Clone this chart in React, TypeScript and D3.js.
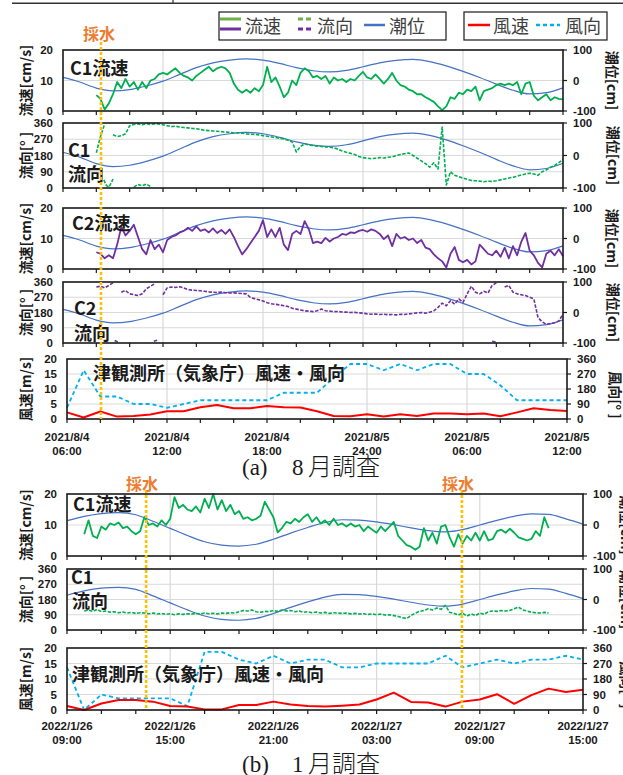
import React from "react";
import * as d3 from "d3";

// sampling step (hours) of the current-meter series
const STEP_H = 0.25;

// ---------- (a) 8月調査 : hours since 2021/8/4 06:00 ----------
const A_TIDE = [10, -5, -25, -34, -30, -18, -2, 20, 42, 58, 67, 71, 67, 56, 42, 32, 28, 33, 45, 58, 66, 69, 62, 48, 30, 10, -12, -32, -44, -40, -24];

const A_C1_SPEED_START = 2;
const A_C1_SPEED = [
  5.2, 4.0, 0.5, 2.5, 5.5, 9.5, 7.5, 10.5, 8, 9.5, 7, 9.5, 7.5, 10, 10.5, 12,
  12.5, 12, 13, 14, 12.5, 11.5, 11, 10, 11.5, 12.5, 13.5, 14.5, 13, 14, 14.5, 14,
  12.5, 9, 7, 6, 7, 6, 7.5, 6.5, 8.5, 14.5, 9.5, 11, 8, 4.5, 6, 10,
  8.5, 12.5, 14, 13, 11, 11.5, 10.5, 11.5, 9, 11, 10, 10.5, 9.5, 10.5, 10, 11.5,
  12.8, 11, 10.5, 12, 10.5, 9, 10.5, 12.5, 10, 8.5, 8, 7, 6.5, 5.5, 5.5, 4.5,
  3.8, 3, 1.5, 0.3, 1.5, 4.5, 4, 6, 5.5, 7, 6.5, 8, 3.5, 6.5, 7, 7.5,
  8.5, 9, 8.5, 9, 8.5, 9.5, 5.5, 9, 9.5, 5, 3.5, 4.5, 5.5, 3.5, 4.5, 4, 3.8,
];

const A_C1_DIR_START = 2;
const A_C1_DIR: (number | null)[] = [
  195, 285, 355, null, 295, 285, 290, 300, 345, 352, 355, 350, 356, 352, 355, 355,
  350, 345, 340, 342, 338, 335, 333, 330, 328, 324, 320, 318, 316, 314, 312, 310,
  308, 306, 305, 303, 300, 298, 297, 294, 290, 287, 283, 280, 275, 272, 265, 255,
  200, 230, 245, 238, 235, 232, 230, 228, 226, 222, 215, 205, 198, 192, 185, 175,
  168, 165, 162, 165, 168, 166, 170, 172, 180, 186, 190, 194, 180, 165, 150, 135,
  115, 140, 105, 338, 17, 90, 70, 62, 55, 48, 42, 40, 38, 35, 38, 36,
  40, 45, 50, 55, 60, 65, 72, 78, 82, 78, 70, 90, 100, 115, 125, 140, 158,
];
// fragments that wrapped past 360° to just above 0°
const A_C1_DIR_WRAP_T = [2.45, 2.6, 2.75, 2.9, 3.0, 3.1, 4.25, 4.5, 4.75, 5.0, 5.25];
const A_C1_DIR_WRAP: (number | null)[] = [45, 15, 5, 30, 50, null, 5, 20, 12, 22, 8];

const A_C2_SPEED_START = 2;
const A_C2_SPEED = [
  5.5, 5, 3.5, 4.5, 3.5, 8, 13.8, 11, 12.5, 14.5, 10.5, 6.5, 4.8, 9.5, 6.5, 8,
  5.5, 9.5, 10.5, 11, 12, 12.5, 13.5, 12.5, 14, 12.5, 13, 12, 13.3, 11.8, 12.8, 11.5,
  13, 10.5, 7.5, 4.8, 6.5, 8.5, 10.5, 12.5, 16, 10.5, 13, 10.5, 13.5, 8, 6.2, 11.5,
  12.5, 11.5, 15.7, 13, 8.5, 9, 8.5, 10.2, 9, 10, 10.5, 11.5, 11.2, 12, 11.8, 12.5,
  12.8, 12.2, 13, 12.5, 11.5, 9.8, 11, 7.5, 11.5, 10, 10.5, 9.5, 10, 8.5, 9.5, 7,
  6.5, 4.8, 3.5, 2.5, 0.5, 5, 7.2, 3, 2.2, 3, 1.5, 2.5, 8, 6.5, 5, 4.5,
  6, 4, 7, 3.5, 7.5, 4.5, 9, 11.8, 6, 4.5, 2, 0.5, 5, 6, 4.5, 6.5, 4.2,
];

const A_C2_DIR_START = 2;
const A_C2_DIR: (number | null)[] = [
  330, 335, 325, 340, 355, null, 300, 310, 290, 285, 280, 290, 320, 335, 350, null,
  285, 325, 330, 328, 332, 325, 315, 312, 310, 308, 305, 302, 300, 298, 300, 297,
  295, 296, 294, 292, 290, 268, 262, 255, 248, 238, 232, 228, 225, 220, 215, 205,
  200, 195, 190, 188, 185, 190, 200, 190, 188, 185, 186, 183, 182, 180, 181, 178,
  176, 172, 170, 171, 168, 170, 167, 168, 166, 170, 168, 172, 175, 178, 180, 176,
  182, 190, 210, 235, 220, 250, 230, 260, 240, 290, 335, 300, 290, 305, 295, 340,
  355, null, 330, 340, 300, 290, 285, 280, 270, 260, 150, 125, 110, 115, 120, 130, 170,
];
const A_C2_DIR_WRAP_T = [3.1, 3.3, 3.4, 5.45, 5.7, 5.8, 25.75, 26.0];
const A_C2_DIR_WRAP: (number | null)[] = [15, 5, null, 10, 18, null, 10, 5];

// hourly JMA wind (津)
const A_WIND_SPEED = [2.2, 0.5, 2.5, 0.8, 1.0, 1.5, 2.6, 2.6, 3.9, 4.7, 3.6, 3.6, 4.3, 3.9, 3.8, 2.6, 1.0, 0.9, 1.6, 0.8, 1.6, 1.0, 1.8, 1.8, 1.6, 1.8, 0.9, 2.2, 3.6, 3.0, 2.7];
const A_WIND_DIR = [67.5, 292.5, 135, 135, 90, 90, 67.5, 90, 112.5, 112.5, 112.5, 112.5, 112.5, 157.5, 157.5, 157.5, 247.5, 330, 330, 292.5, 330, 292.5, 330, 330, 270, 270, 202.5, 112.5, 112.5, 112.5, 112.5];
const A_SAMPLING_HOURS = [2.28];

// ---------- (b) 1月調査 : hours since 2022/1/26 09:00 ----------
const B_TIDE = [14, 28, 37, 40, 33, 12, -11, -34, -54, -65, -68, -62, -46, -26, -8, 8, 17, 16, 10, 1, -9, -18, -22, -15, 0, 15, 28, 36, 34, 20, 3];

const B_C1_SPEED_START = 1;
const B_C1_SPEED = [
  7, 11.5, 6.5, 5.8, 9.5, 8.5, 10.5, 10, 10.8, 9, 9.5, 8, 7, 8, 12.6, 10,
  10.5, 9.5, 11.5, 10, 12, 19, 15.5, 16.5, 15, 14.5, 16, 14, 18.5, 15.5, 20, 15,
  18, 14.5, 16.5, 13.5, 14.5, 12, 12.5, 11.5, 12, 13, 17.5, 15, 12.5, 7.6, 9, 11,
  10.5, 12, 11, 12.5, 13.5, 11, 12.5, 10.5, 11.5, 10, 12, 10, 10.5, 9.5, 10.5, 9.5,
  10, 8, 9.5, 8.5, 7.5, 9.5, 8, 9.5, 11, 6.5, 5, 3.5, 3, 2, 3, 9,
  5, 7.5, 4, 9.5, 10, 6, 3, 7, 4, 6.5, 5, 7.5, 5, 8, 5, 5.5,
  8, 8.5, 7.5, 8.8, 7.5, 6, 5.5, 5, 5.5, 8, 6.5, 12.5, 9,
];

const B_C1_DIR_START = 1;
const B_C1_DIR = [
  112, 118, 110, 122, 108, 112, 105, 108, 102, 106, 100, 104, 98, 102, 100, 96,
  100, 94, 98, 92, 96, 90, 95, 92, 96, 94, 98, 95, 100, 96, 98, 95,
  100, 98, 102, 100, 108, 115, 112, 118, 108, 105, 110, 108, 115, 110, 118, 112,
  115, 108, 112, 104, 108, 102, 106, 100, 104, 98, 102, 100, 98, 100, 95, 98,
  94, 96, 92, 95, 90, 94, 88, 90, 85, 80, 72, 68, 85, 100, 110, 115,
  125, 118, 130, 122, 145, 105, 98, 88, 100, 82, 95, 85, 100, 92, 108, 112,
  110, 115, 112, 116, 125, 135, 118, 112, 105, 102, 100, 104, 100,
];

const B_WIND_SPEED = [1.3, 0, 2.1, 3.2, 3.2, 2.7, 1.3, 1.1, 0.2, 0.2, 1.6, 1.6, 2.7, 1.8, 1.3, 1.1, 1.4, 1.8, 3.4, 5.6, 2.6, 2.4, 1.1, 2.7, 3.4, 5.1, 2.0, 4.8, 6.9, 5.8, 6.5];
const B_WIND_DIR = [247.5, 0, 90, 67.5, 67.5, 67.5, 67.5, 22.5, 337.5, 337.5, 292.5, 270, 315, 270, 292.5, 292.5, 247.5, 247.5, 270, 270, 270, 270, 315, 247.5, 270, 292.5, 270, 292.5, 292.5, 315, 292.5];
const B_SAMPLING_HOURS = [4.6, 22.96];

// ---------- axes ----------
const SPEED_TICKS = [0, 10, 20];
const DIR_TICKS = [0, 90, 180, 270, 360];
const TIDE_TICKS = [-100, 0, 100];
const WIND_TICKS = [0, 5, 10, 15, 20];
const WDIR_TICKS = [0, 90, 180, 270, 360];
const HOUR_TICKS = d3.range(0, 31, 2);
const GRID_HOURS = [6, 12, 18, 24];
const A_DATE_LABELS = [["2021/8/4", "06:00"], ["2021/8/4", "12:00"], ["2021/8/4", "18:00"], ["2021/8/5", "24:00"], ["2021/8/5", "06:00"], ["2021/8/5", "12:00"]];
const B_DATE_LABELS = [["2022/1/26", "09:00"], ["2022/1/26", "15:00"], ["2022/1/26", "21:00"], ["2022/1/27", "03:00"], ["2022/1/27", "09:00"], ["2022/1/27", "15:00"]];
const LABEL_HOURS = [0, 6, 12, 18, 24, 30];

const GREEN = "#00B050";
const PURPLE = "#7030A0";
const BLUE = "#4472C4";
const RED = "#FF0000";
const CYAN = "#00B0F0";
const ORANGE_TXT = "#ED7D31";
const ORANGE_LINE = "#FFC000";
const INK = "#1a1a1a";
const NUM_FONT = "'Liberation Sans', Arial, sans-serif";
const JP_FONT = "'Noto Sans CJK JP', 'Noto Sans', sans-serif";
const SERIF = "'Liberation Serif', 'Times New Roman', serif";

const times = (start: number, n: number) => d3.range(n).map((i) => start + i * STEP_H);
const hours = (n: number) => d3.range(n);

type Series = {
  t: number[];
  v: (number | null)[];
  color: string;
  width: number;
  dash?: string;
  right?: boolean;
  curve?: boolean;
};

type PanelOpts = {
  id: string;
  x: d3.ScaleLinear<number, number>;
  y0: number;
  y1: number;
  leftDomain: [number, number];
  leftTicks: number[];
  rightDomain: [number, number];
  rightTicks: number[];
  leftTitle: string;
  rightTitle: string;
  rightTitleX: number;
  rightTitleDy?: number;
  series: Series[];
};

function Panel(o: PanelOpts) {
  const [xa, xb] = o.x.range();
  const yl = d3.scaleLinear().domain(o.leftDomain).range([o.y1, o.y0]);
  const yr = d3.scaleLinear().domain(o.rightDomain).range([o.y1, o.y0]);
  const mid = (o.y0 + o.y1) / 2;
  return (
    <g>
      {GRID_HOURS.map((h) => (
        <line key={"vg" + h} x1={o.x(h)} x2={o.x(h)} y1={o.y0} y2={o.y1} stroke="#d9d9d9" strokeWidth={1.2} />
      ))}
      {o.leftTicks.slice(1, -1).map((v) => (
        <line key={"hg" + v} x1={xa} x2={xb} y1={yl(v)} y2={yl(v)} stroke="#d9d9d9" strokeWidth={1.2} />
      ))}
      {o.series.map((s, i) => {
        const ys = s.right ? yr : yl;
        const gen = d3
          .line<number>()
          .defined((j) => s.v[j] != null)
          .x((j) => o.x(s.t[j]))
          .y((j) => ys(s.v[j] as number));
        if (s.curve) gen.curve(d3.curveMonotoneX);
        return (
          <path
            key={"s" + i}
            d={gen(d3.range(s.t.length)) || ""}
            fill="none"
            stroke={s.color}
            strokeWidth={s.width}
            strokeDasharray={s.dash}
            strokeLinejoin="round"
          />
        );
      })}
      <rect x={xa} y={o.y0} width={xb - xa} height={o.y1 - o.y0} fill="none" stroke={INK} strokeWidth={1.6} />
      {HOUR_TICKS.map((h) => (
        <line key={"xt" + h} x1={o.x(h)} x2={o.x(h)} y1={o.y1} y2={o.y1 + 4} stroke={INK} strokeWidth={1.2} />
      ))}
      {o.rightTicks.map((v) => (
        <line key={"rt" + v} x1={xb} x2={xb + 4} y1={yr(v)} y2={yr(v)} stroke={INK} strokeWidth={1.2} />
      ))}
      {o.leftTicks.map((v) => (
        <text key={"lt" + v} x={xa - 10} y={yl(v)} textAnchor="end" dominantBaseline="central"
          fontFamily={NUM_FONT} fontWeight="bold" fontSize={11.5} fill={INK}>{v}</text>
      ))}
      {o.rightTicks.map((v) => (
        <text key={"rl" + v} x={xb + 10} y={yr(v)} textAnchor="start" dominantBaseline="central"
          fontFamily={NUM_FONT} fontWeight="bold" fontSize={11.5} fill={INK}>{v}</text>
      ))}
      <text transform={`translate(25,${mid}) rotate(-90)`} textAnchor="middle" dominantBaseline="central"
        fontFamily={JP_FONT} fontWeight="bold" fontSize={14} fill={INK}>{o.leftTitle}</text>
      <text transform={`translate(${o.rightTitleX},${mid + (o.rightTitleDy || 0)}) rotate(90)`} textAnchor="middle"
        dominantBaseline="central" fontFamily={JP_FONT} fontWeight="bold" fontSize={14} fill={INK}>{o.rightTitle}</text>
    </g>
  );
}

function PanelLabel({ x, y, text, size = 18 }: { x: number; y: number; text: string; size?: number }) {
  return (
    <text x={x} y={y} dominantBaseline="central" fontFamily={JP_FONT} fontWeight="bold" fontSize={size} fill={INK}>
      {text}
    </text>
  );
}

function DateLabels({ x, labels, y }: { x: d3.ScaleLinear<number, number>; labels: string[][]; y: number }) {
  return (
    <g>
      {labels.map((l, i) => (
        <g key={i}>
          <text x={x(LABEL_HOURS[i])} y={y} textAnchor="middle" dominantBaseline="central" fontFamily={NUM_FONT}
            fontWeight="bold" fontSize={11.5} fill={INK}>{l[0]}</text>
          <text x={x(LABEL_HOURS[i])} y={y + 13.5} textAnchor="middle" dominantBaseline="central" fontFamily={NUM_FONT}
            fontWeight="bold" fontSize={11.5} fill={INK}>{l[1]}</text>
        </g>
      ))}
    </g>
  );
}

function Caption({ y, tag, month }: { y: number; tag: string; month: string }) {
  return (
    <g fill={INK}>
      <text x={242} y={y} fontFamily={SERIF} fontSize={23}>{tag}</text>
      <text x={292} y={y} fontFamily={SERIF} fontSize={23}>{month}</text>
      <text x={308} y={y} fontFamily={JP_FONT} fontWeight={300} fontSize={24}>月調査</text>
    </g>
  );
}

export default function App() {
  const W = 623;
  const H = 775;
  const xA = d3.scaleLinear().domain([0, 30]).range([63, 563]);
  const xAw = d3.scaleLinear().domain([0, 30]).range([67, 567]);
  const xB = d3.scaleLinear().domain([0, 30]).range([67, 583]);

  const aTide: Series = { t: hours(A_TIDE.length), v: A_TIDE, color: BLUE, width: 1.2, right: true, curve: true };
  const bTide: Series = { t: hours(B_TIDE.length), v: B_TIDE, color: BLUE, width: 1.2, right: true, curve: true };
  const dirDash = "3.5 1.5";

  return (
    <svg width={W} height={H} viewBox={`0 0 ${W} ${H}`} style={{ position: "absolute", left: 0, top: 0, background: "#fff" }}>
      <rect x={0} y={0} width={W} height={H} fill="#fff" />
      {/* remnant of the previous figure */}
      <line x1={12} x2={W} y1={3.3} y2={3.3} stroke="#333" strokeWidth={1.4} />
      <line x1={173} x2={173} y1={0} y2={3.3} stroke="#333" strokeWidth={1.2} />

      {/* legends */}
      <g fontFamily={JP_FONT} fontSize={18} fill="#404040">
        <rect x={219} y={12} width={227} height={28} fill="#fff" stroke={INK} strokeWidth={1.2} />
        <line x1={220} x2={241} y1={19} y2={19} stroke="#70AD47" strokeWidth={3} />
        <line x1={220} x2={241} y1={29} y2={29} stroke={PURPLE} strokeWidth={3} />
        <text x={245} y={25} dominantBaseline="central">流速</text>
        <line x1={298} x2={311} y1={19} y2={19} stroke="#70AD47" strokeWidth={3} strokeDasharray="5 3" />
        <line x1={298} x2={311} y1={29} y2={29} stroke={PURPLE} strokeWidth={3} strokeDasharray="5 3" />
        <text x={317} y={25} dominantBaseline="central">流向</text>
        <line x1={364} x2={385} y1={25} y2={25} stroke={BLUE} strokeWidth={2.5} />
        <text x={389} y={25} dominantBaseline="central">潮位</text>

        <rect x={464} y={12} width={143} height={28} fill="#fff" stroke={INK} strokeWidth={1.2} />
        <line x1={468} x2={490} y1={25} y2={25} stroke={RED} strokeWidth={2.5} />
        <text x={493} y={25} dominantBaseline="central">風速</text>
        <line x1={536} x2={560} y1={25} y2={25} stroke={CYAN} strokeWidth={2.5} strokeDasharray="4 3" />
        <text x={565} y={25} dominantBaseline="central">風向</text>
      </g>

      {/* ===== (a) ===== */}
      <Panel id="a1" x={xA} y0={50} y1={111} leftDomain={[0, 20]} leftTicks={SPEED_TICKS} rightDomain={[-100, 100]}
        rightTicks={TIDE_TICKS} leftTitle="流速[cm/s]" rightTitle="潮位[cm]" rightTitleX={613}
        series={[aTide, { t: times(A_C1_SPEED_START, A_C1_SPEED.length), v: A_C1_SPEED, color: GREEN, width: 1.8 }]} />
      <Panel id="a2" x={xA} y0={123} y1={188} leftDomain={[0, 360]} leftTicks={DIR_TICKS} rightDomain={[-100, 100]}
        rightTicks={TIDE_TICKS} leftTitle="流向[° ]" rightTitle="潮位[cm]" rightTitleX={614}
        series={[
          aTide,
          { t: times(A_C1_DIR_START, A_C1_DIR.length), v: A_C1_DIR, color: GREEN, width: 1.6, dash: dirDash },
          { t: A_C1_DIR_WRAP_T, v: A_C1_DIR_WRAP, color: GREEN, width: 1.6, dash: dirDash },
        ]} />
      <Panel id="a3" x={xA} y0={208} y1={269} leftDomain={[0, 20]} leftTicks={SPEED_TICKS} rightDomain={[-100, 100]}
        rightTicks={TIDE_TICKS} leftTitle="流速[cm/s]" rightTitle="潮位[cm]" rightTitleX={613}
        series={[aTide, { t: times(A_C2_SPEED_START, A_C2_SPEED.length), v: A_C2_SPEED, color: PURPLE, width: 1.8 }]} />
      <Panel id="a4" x={xA} y0={282} y1={343} leftDomain={[0, 360]} leftTicks={DIR_TICKS} rightDomain={[-100, 100]}
        rightTicks={TIDE_TICKS} leftTitle="流向[° ]" rightTitle="潮位[cm]" rightTitleX={614}
        series={[
          aTide,
          { t: times(A_C2_DIR_START, A_C2_DIR.length), v: A_C2_DIR, color: PURPLE, width: 1.6, dash: dirDash },
          { t: A_C2_DIR_WRAP_T, v: A_C2_DIR_WRAP, color: PURPLE, width: 1.6, dash: dirDash },
        ]} />
      <Panel id="a5" x={xAw} y0={359} y1={419} leftDomain={[0, 20]} leftTicks={WIND_TICKS} rightDomain={[0, 360]}
        rightTicks={WDIR_TICKS} leftTitle="風速[m/s]" rightTitle="風向[° ]" rightTitleX={616} rightTitleDy={6}
        series={[
          { t: hours(A_WIND_DIR.length), v: A_WIND_DIR, color: CYAN, width: 1.8, dash: "4 3", right: true },
          { t: hours(A_WIND_SPEED.length), v: A_WIND_SPEED, color: RED, width: 2 },
        ]} />
      <DateLabels x={xAw} labels={A_DATE_LABELS} y={437} />

      <PanelLabel x={70} y={67} text="C1流速" />
      <PanelLabel x={68} y={149} text="C1" />
      <PanelLabel x={68} y={173} text="流向" />
      <PanelLabel x={72} y={222} text="C2流速" />
      <PanelLabel x={74} y={307} text="C2" />
      <PanelLabel x={74} y={332} text="流向" />
      <PanelLabel x={93} y={372} text="津観測所（気象庁）風速・風向" />

      {A_SAMPLING_HOURS.map((h) => (
        <g key={"sa" + h}>
          <line x1={xA(h)} x2={xA(h)} y1={42} y2={419} stroke={ORANGE_LINE} strokeWidth={2.6} strokeDasharray="3 2" />
          <text x={xA(h) - 2} y={33} textAnchor="middle" dominantBaseline="central" fontFamily={JP_FONT}
            fontWeight="bold" fontSize={16} fill={ORANGE_TXT}>採水</text>
        </g>
      ))}

      <Caption y={475} tag="(a)" month="8" />

      {/* ===== (b) ===== */}
      <Panel id="b1" x={xB} y0={494} y1={556} leftDomain={[0, 20]} leftTicks={SPEED_TICKS} rightDomain={[-100, 100]}
        rightTicks={TIDE_TICKS} leftTitle="流速[cm/s]" rightTitle="潮位[cm]" rightTitleX={627}
        series={[bTide, { t: times(B_C1_SPEED_START, B_C1_SPEED.length), v: B_C1_SPEED, color: GREEN, width: 1.8 }]} />
      <Panel id="b2" x={xB} y0={569} y1={630} leftDomain={[0, 360]} leftTicks={DIR_TICKS} rightDomain={[-100, 100]}
        rightTicks={TIDE_TICKS} leftTitle="流向[° ]" rightTitle="潮位[cm]" rightTitleX={627}
        series={[bTide, { t: times(B_C1_DIR_START, B_C1_DIR.length), v: B_C1_DIR, color: GREEN, width: 1.6, dash: dirDash }]} />
      <Panel id="b5" x={xB} y0={648} y1={710} leftDomain={[0, 20]} leftTicks={WIND_TICKS} rightDomain={[0, 360]}
        rightTicks={WDIR_TICKS} leftTitle="風速[m/s]" rightTitle="風向[° ]" rightTitleX={627} rightTitleDy={6}
        series={[
          { t: hours(B_WIND_DIR.length), v: B_WIND_DIR, color: CYAN, width: 1.8, dash: "4 3", right: true },
          { t: hours(B_WIND_SPEED.length), v: B_WIND_SPEED, color: RED, width: 2 },
        ]} />
      <DateLabels x={xB} labels={B_DATE_LABELS} y={726} />

      <PanelLabel x={73} y={503} text="C1流速" />
      <PanelLabel x={71} y={576} text="C1" />
      <PanelLabel x={72} y={600} text="流向" />
      <PanelLabel x={72} y={673} text="津観測所（気象庁）風速・風向" />

      {B_SAMPLING_HOURS.map((h) => (
        <g key={"sb" + h}>
          <line x1={xB(h)} x2={xB(h)} y1={490} y2={710} stroke={ORANGE_LINE} strokeWidth={2.6} strokeDasharray="3 2" />
          <text x={xB(h) - 4} y={483} textAnchor="middle" dominantBaseline="central" fontFamily={JP_FONT}
            fontWeight="bold" fontSize={16} fill={ORANGE_TXT}>採水</text>
        </g>
      ))}

      <Caption y={772} tag="(b)" month="1" />
    </svg>
  );
}
